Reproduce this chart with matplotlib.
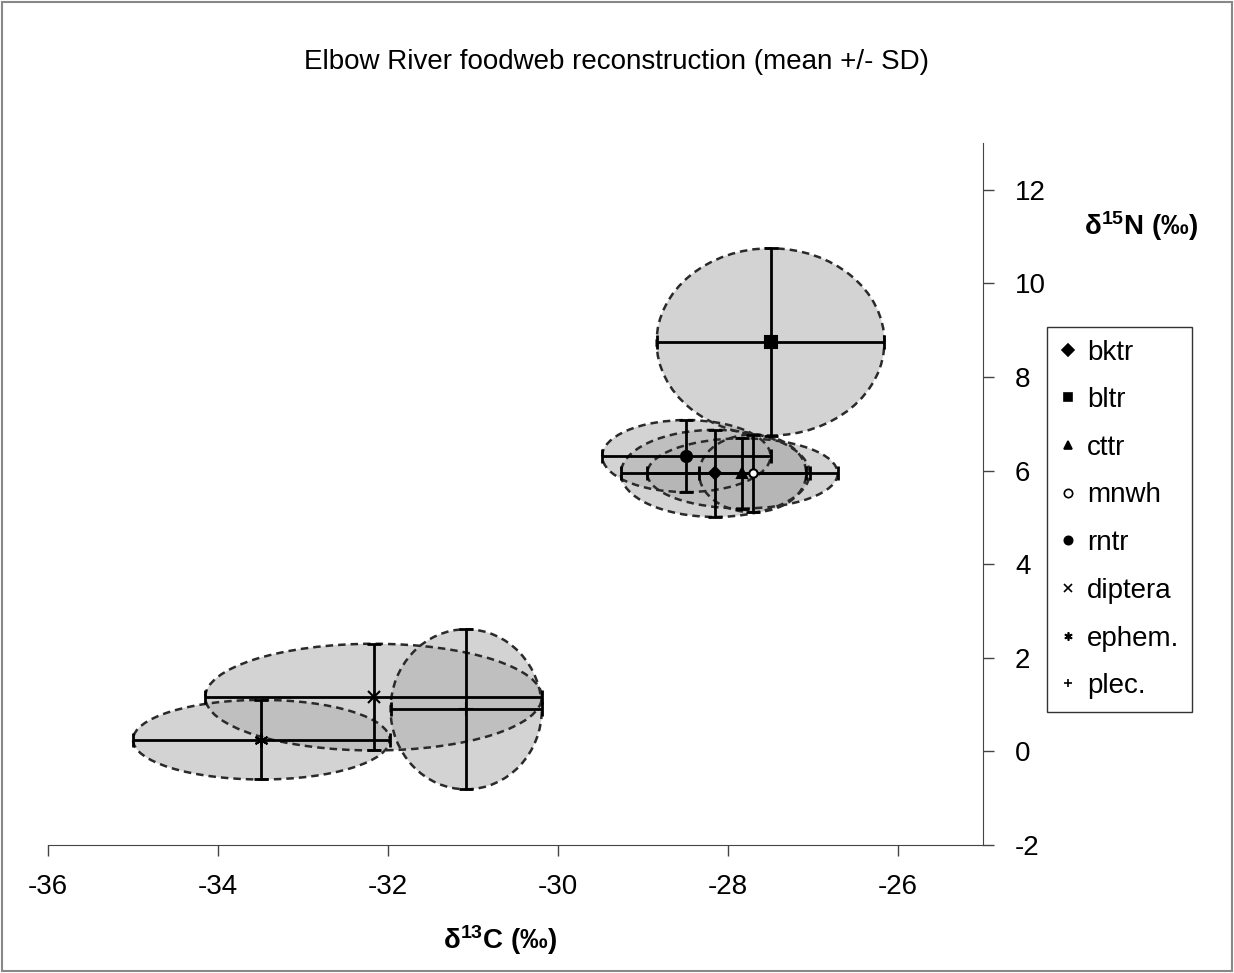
import matplotlib
matplotlib.use("Agg")
import matplotlib.pyplot as plt
from matplotlib.patches import Ellipse, Rectangle

plt.rcParams["font.family"] = ["Liberation Sans", "DejaVu Sans"]
plt.rcParams["mathtext.fontset"] = "custom"
plt.rcParams["mathtext.rm"] = "Liberation Sans"
plt.rcParams["mathtext.it"] = "Liberation Sans"
plt.rcParams["mathtext.bf"] = "Liberation Sans:bold"
plt.rcParams["axes.unicode_minus"] = False

# taxa and their mean / SD isotope values
taxa = ["bktr", "bltr", "cttr", "mnwh", "rntr", "diptera", "ephem.", "plec."]
d13c_mean = [-28.15, -27.50, -27.83, -27.71, -28.49, -32.17, -33.49, -31.08]
d13c_sd = [1.11, 1.34, 1.12, 0.63, 0.99, 1.98, 1.51, 0.89]
d15n_mean = [5.94, 8.75, 5.94, 5.94, 6.31, 1.16, 0.25, 0.90]
d15n_sd = [0.93, 2.00, 0.75, 0.83, 0.77, 1.14, 0.85, 1.71]

markers = ["D", "s", "^", "o", "o", "x", (6, 2, 0), "+"]
marker_face = ["black", "black", "black", "white", "black", "black", "black", "black"]
marker_size = [6, 9, 7, 6, 8, 9, 10, 10]

fig = plt.figure(figsize=(12.34, 9.73), dpi=100)
ax = fig.add_axes([48 / 1234, 1 - 845 / 973, (983 - 48) / 1234, (845 - 143) / 973])

# SD ellipses first so error bars sit on top
for i in range(len(taxa)):
    ell = Ellipse((d13c_mean[i], d15n_mean[i]), 2 * d13c_sd[i], 2 * d15n_sd[i],
                  facecolor="#b0b0b0", alpha=0.55, edgecolor="none", zorder=1)
    ax.add_patch(ell)
    outline = Ellipse((d13c_mean[i], d15n_mean[i]), 2 * d13c_sd[i], 2 * d15n_sd[i],
                      facecolor="none", edgecolor="#2a2a2a", linestyle=(0, (3, 2)),
                      linewidth=1.8, zorder=2)
    ax.add_patch(outline)

for i in range(len(taxa)):
    ax.errorbar(d13c_mean[i], d15n_mean[i], xerr=d13c_sd[i], yerr=d15n_sd[i],
                fmt="none", ecolor="black", elinewidth=2, capsize=5, capthick=2, zorder=3)
    ax.plot(d13c_mean[i], d15n_mean[i], linestyle="none", marker=markers[i],
            markersize=marker_size[i], markerfacecolor=marker_face[i],
            markeredgecolor="black", markeredgewidth=1.5, zorder=4)

# legend handles: markers only
handles = []
for i in range(len(taxa)):
    h, = ax.plot([], [], linestyle="none", marker=markers[i], markersize=6,
                 markerfacecolor=marker_face[i], markeredgecolor="black",
                 markeredgewidth=1.2, label=taxa[i])
    handles.append(h)
leg = fig.legend(handles=handles, loc="upper left",
                 bbox_to_anchor=(1047 / 1234, 1 - 327 / 973), borderaxespad=0,
                 frameon=True, fancybox=False, fontsize=20, handlelength=0.6,
                 handletextpad=0.4, labelspacing=0.78, borderpad=0.45)
leg.get_frame().set_edgecolor("black")
leg.get_frame().set_linewidth(1.0)

ax.set_xlim(-36, -25)
ax.set_ylim(-2, 13)
ax.set_xticks(range(-36, -25, 2))
ax.set_yticks(range(-2, 13, 2))
ax.spines["top"].set_visible(False)
ax.spines["left"].set_visible(False)
ax.spines["right"].set_color("#444444")
ax.spines["bottom"].set_color("#444444")
ax.yaxis.tick_right()
ax.tick_params(axis="both", direction="out", length=8, width=1, colors="#444444",
               labelcolor="black", labelsize=20)
ax.tick_params(axis="x", pad=13)
ax.tick_params(axis="y", pad=15)

fig.text(617 / 1234, 1 - 62 / 973, "Elbow River foodweb reconstruction (mean +/- SD)",
         ha="center", va="center", fontsize=20)
fig.text(500 / 1234, 1 - 940 / 973, r"δ$^{\mathbf{13}}$C (‰)", ha="center", va="center",
         fontsize=20, fontweight="bold")
fig.text(1141 / 1234, 1 - 226 / 973, r"δ$^{\mathbf{15}}$N (‰)", ha="center", va="center",
         fontsize=20, fontweight="bold")

# thin border round the whole figure
fig.patches.append(Rectangle((0.002, 0.002), 0.996, 0.996, transform=fig.transFigure,
                             fill=False, edgecolor="#888888", linewidth=1.5))

fig.savefig("out.png", dpi=100)
